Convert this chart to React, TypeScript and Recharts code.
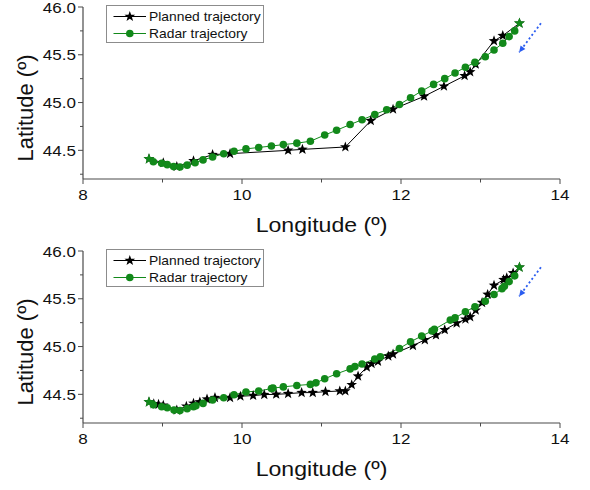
import React from 'react';
import { LineChart, Line, XAxis, YAxis, ReferenceLine, ReferenceDot, Legend } from 'recharts';

const FONT = '"Liberation Sans", Arial, sans-serif';
const WIDE = 1.1; // horizontal text stretch
const GREEN = '#12891a';
const AXIS = '#4a4a4a';
const BLUE = '#2a5cf0';

// Panel A: sparse planned waypoints
const plannedLonA = [8.83, 9.01, 9.18, 9.39, 9.63, 9.85, 10.58, 10.76, 11.30, 11.62, 11.90, 12.29, 12.54, 12.80, 12.87, 12.94, 13.17, 13.28, 13.49];
const plannedLatA = [44.41, 44.37, 44.33, 44.39, 44.455, 44.465, 44.50, 44.51, 44.535, 44.81, 44.93, 45.065, 45.17, 45.28, 45.32, 45.40, 45.645, 45.70, 45.83];
const radarLonA = [8.83, 8.885, 8.99, 9.06, 9.14, 9.22, 9.31, 9.41, 9.51, 9.63, 9.77, 9.90, 10.05, 10.21, 10.37, 10.52, 10.69, 10.86, 11.04, 11.19, 11.36, 11.51, 11.67, 11.82, 11.98, 12.12, 12.26, 12.41, 12.55, 12.68, 12.81, 12.93, 13.06, 13.17, 13.28, 13.36, 13.43, 13.49];
const radarLatA = [44.41, 44.38, 44.365, 44.35, 44.33, 44.325, 44.345, 44.37, 44.40, 44.43, 44.465, 44.49, 44.515, 44.53, 44.545, 44.56, 44.575, 44.595, 44.66, 44.71, 44.77, 44.82, 44.875, 44.925, 44.98, 45.05, 45.12, 45.19, 45.25, 45.31, 45.37, 45.42, 45.48, 45.55, 45.62, 45.69, 45.75, 45.83];

// Panel B: dense planned waypoints
const plannedLonB = [8.83, 8.89, 8.95, 9.01, 9.18, 9.30, 9.39, 9.47, 9.56, 9.66, 9.85, 9.98, 10.14, 10.28, 10.43, 10.58, 10.75, 10.89, 11.05, 11.23, 11.30, 11.38, 11.46, 11.57, 11.63, 11.71, 11.84, 11.90, 12.15, 12.30, 12.44, 12.55, 12.70, 12.81, 12.87, 12.94, 13.02, 13.09, 13.17, 13.29, 13.33, 13.41, 13.49];
const plannedLatB = [44.42, 44.40, 44.395, 44.385, 44.335, 44.375, 44.405, 44.42, 44.45, 44.465, 44.465, 44.48, 44.487, 44.497, 44.50, 44.507, 44.518, 44.518, 44.528, 44.535, 44.535, 44.60, 44.69, 44.785, 44.82, 44.845, 44.90, 44.92, 45.01, 45.07, 45.12, 45.175, 45.245, 45.285, 45.31, 45.38, 45.46, 45.545, 45.64, 45.70, 45.72, 45.77, 45.83];
const radarLonB = [8.83, 8.885, 8.99, 9.06, 9.145, 9.22, 9.31, 9.39, 9.42, 9.51, 9.63, 9.77, 9.90, 10.05, 10.21, 10.37, 10.39, 10.52, 10.69, 10.86, 10.93, 11.04, 11.19, 11.36, 11.42, 11.51, 11.67, 11.74, 11.98, 12.12, 12.26, 12.39, 12.42, 12.62, 12.68, 12.81, 12.93, 13.06, 13.17, 13.27, 13.30, 13.36, 13.43, 13.49];
const radarLatB = [44.42, 44.39, 44.37, 44.36, 44.335, 44.33, 44.35, 44.37, 44.38, 44.405, 44.44, 44.465, 44.495, 44.525, 44.535, 44.56, 44.565, 44.578, 44.593, 44.604, 44.62, 44.663, 44.715, 44.766, 44.79, 44.818, 44.87, 44.894, 44.98, 45.05, 45.11, 45.163, 45.18, 45.277, 45.30, 45.364, 45.416, 45.474, 45.544, 45.606, 45.63, 45.68, 45.74, 45.83];

// Flight direction arrow (lon, lat) from tail to head
const arrowLon = [13.76, 13.485];
const arrowLat = [45.83, 45.525];

const xTicks = [8, 9, 10, 11, 12, 13, 14];
const yTicks = [44.25, 44.5, 44.75, 45.0, 45.25, 45.5, 45.75, 46.0];

const SERIES_NAMES = ['Planned trajectory', 'Radar trajectory'];

const toPoints = (lon: number[], lat: number[]) => lon.map((v, i) => ({ lon: v, lat: lat[i] }));

function starPath(cx: number, cy: number, R: number, r: number) {
  const pts: string[] = [];
  for (let i = 0; i < 10; i++) {
    const a = -Math.PI / 2 + (i * Math.PI) / 5;
    const rad = i % 2 === 0 ? R : r;
    pts.push(`${(cx + rad * Math.cos(a)).toFixed(2)},${(cy + rad * Math.sin(a)).toFixed(2)}`);
  }
  return pts.join(' ');
}

const StarDot = (props: any) => {
  const { cx, cy } = props;
  if (cx == null || cy == null) return null;
  return <polygon points={starPath(cx, cy, 5.6, 2.3)} fill="#000" />;
};

// Radar fixes: circles, with the shared start and end fixes shown as green stars
const RadarDot = (props: any) => {
  const { cx, cy, index, points } = props;
  if (cx == null || cy == null) return null;
  const last = Array.isArray(points) ? points.length - 1 : -1;
  if (index === 0 || index === last) {
    return <polygon points={starPath(cx, cy, 5.8, 2.4)} fill={GREEN} />;
  }
  return <circle cx={cx} cy={cy} r={3.8} fill={GREEN} />;
};

const WideText = ({ x, y, anchor, size, children }: any) => (
  <text
    transform={`translate(${x},${y}) scale(${WIDE},1)`}
    textAnchor={anchor}
    fontFamily={FONT}
    fontSize={size}
    fill="#111"
  >
    {children}
  </text>
);

const XTick = (props: any) => {
  const { x, y, payload } = props;
  const v = payload.value as number;
  const major = v % 2 === 0;
  return (
    <g>
      <line x1={x} x2={x} y1={y} y2={y + (major ? 5 : 3.5)} stroke={AXIS} strokeWidth={1} />
      {major && (
        <WideText x={x} y={y + 21} anchor="middle" size={15.5}>
          {String(v)}
        </WideText>
      )}
    </g>
  );
};

const YTick = (props: any) => {
  const { x, y, payload } = props;
  const v = payload.value as number;
  const major = Math.abs(v * 2 - Math.round(v * 2)) < 1e-6;
  return (
    <g>
      <line x1={x - (major ? 5 : 3)} x2={x} y1={y} y2={y} stroke={AXIS} strokeWidth={1} />
      {major && (
        <WideText x={x - 7} y={y + 5.5} anchor="end" size={15.5}>
          {v.toFixed(1)}
        </WideText>
      )}
    </g>
  );
};

const XTitle = (props: any) => {
  const vb = props.viewBox || { x: 83, y: 179, width: 477, height: 66 };
  return (
    <WideText x={vb.x + vb.width / 2} y={vb.y + 52.5} anchor="middle" size={21}>
      Longitude (º)
    </WideText>
  );
};

const YTitle = (props: any) => {
  const vb = props.viewBox || { x: 0, y: 7, width: 83, height: 172 };
  const cy = vb.y + vb.height / 2 + 15;
  return (
    <text
      transform={`translate(32.5,${cy}) rotate(-90)`}
      textAnchor="middle"
      fontFamily={FONT}
      fontSize={22}
      fill="#111"
    >
      Latitude (º)
    </text>
  );
};

const Arrowhead = (props: any) => {
  const { cx, cy } = props;
  if (cx == null || cy == null) return null;
  // pointing down-left along the arrow direction
  const ux = -0.604;
  const uy = 0.797;
  const bx = cx - 6.5 * ux;
  const by = cy - 6.5 * uy;
  const nx = 0.797;
  const ny = 0.604;
  const pts = `${cx},${cy} ${bx + 3 * nx},${by + 3 * ny} ${bx - 3 * nx},${by - 3 * ny}`;
  return <polygon points={pts} fill={BLUE} />;
};

const LegendBox = () => (
  <svg width={158} height={38} style={{ display: 'block', overflow: 'visible' }}>
    <rect x={0.5} y={0.5} width={157} height={37} fill="#fff" stroke="#8c8c8c" strokeWidth={1} />
    <line x1={7.5} x2={40} y1={11.5} y2={11.5} stroke="#000" strokeWidth={1} />
    <StarDot cx={23.8} cy={11.5} />
    <WideText x={43} y={16.3} anchor="start" size={12.6}>
      {SERIES_NAMES[0]}
    </WideText>
    <line x1={7.5} x2={40} y1={28.5} y2={28.5} stroke={GREEN} strokeWidth={1} />
    <circle cx={23.8} cy={28.5} r={3.8} fill={GREEN} />
    <WideText x={43} y={33.3} anchor="start" size={12.6}>
      {SERIES_NAMES[1]}
    </WideText>
  </svg>
);

type PanelProps = {
  planned: { lon: number; lat: number }[];
  radar: { lon: number; lat: number }[];
  padTop: number;
};

// padTop: extra room above the plot so the top tick label is not clipped
const Panel = ({ planned, radar, padTop }: PanelProps) => (
  <LineChart width={590} height={238 + padTop} margin={{ top: padTop, right: 30, bottom: 0, left: 0 }}>
    <XAxis
      type="number"
      dataKey="lon"
      domain={[8, 14]}
      ticks={xTicks}
      interval={0}
      height={66}
      tickSize={0}
      tickMargin={0}
      tickLine={false}
      axisLine={{ stroke: AXIS, strokeWidth: 1.2 }}
      tick={<XTick />}
      label={XTitle}
      allowDataOverflow
    />
    <YAxis
      type="number"
      dataKey="lat"
      domain={[44.2, 46.0]}
      ticks={yTicks}
      interval={0}
      width={83}
      tickSize={0}
      tickMargin={0}
      tickLine={false}
      axisLine={{ stroke: AXIS, strokeWidth: 1.2 }}
      tick={<YTick />}
      label={YTitle}
      allowDataOverflow
    />
    <Legend
      layout="vertical"
      align="center"
      verticalAlign="middle"
      wrapperStyle={{ left: 106, top: padTop - 2, width: 158, height: 38 }}
      content={() => <LegendBox />}
    />
    <Line
      data={planned}
      dataKey="lat"
      name={SERIES_NAMES[0]}
      stroke="#000"
      strokeWidth={1}
      dot={<StarDot />}
      activeDot={false}
      isAnimationActive={false}
    />
    <Line
      data={radar}
      dataKey="lat"
      name={SERIES_NAMES[1]}
      stroke={GREEN}
      strokeWidth={1}
      dot={(p: any) => <RadarDot key={`r-${p.index}`} {...p} points={radar} />}
      activeDot={false}
      isAnimationActive={false}
    />
    <ReferenceLine
      segment={[
        { x: arrowLon[0], y: arrowLat[0] },
        { x: arrowLon[1], y: arrowLat[1] },
      ]}
      stroke={BLUE}
      strokeWidth={1.8}
      strokeDasharray="2 2.5"
    />
    <ReferenceDot x={arrowLon[1]} y={arrowLat[1]} r={3} shape={<Arrowhead />} />
  </LineChart>
);

export default function App() {
  return (
    <div style={{ position: 'absolute', left: 0, top: 0, width: 590, height: 490, background: '#fff' }}>
      <div style={{ position: 'absolute', left: 0, top: 0 }}>
        <Panel planned={toPoints(plannedLonA, plannedLatA)} radar={toPoints(radarLonA, radarLatA)} padTop={7} />
      </div>
      <div style={{ position: 'absolute', left: 0, top: 236 }}>
        <Panel planned={toPoints(plannedLonB, plannedLatB)} radar={toPoints(radarLonB, radarLatB)} padTop={15} />
      </div>
    </div>
  );
}
